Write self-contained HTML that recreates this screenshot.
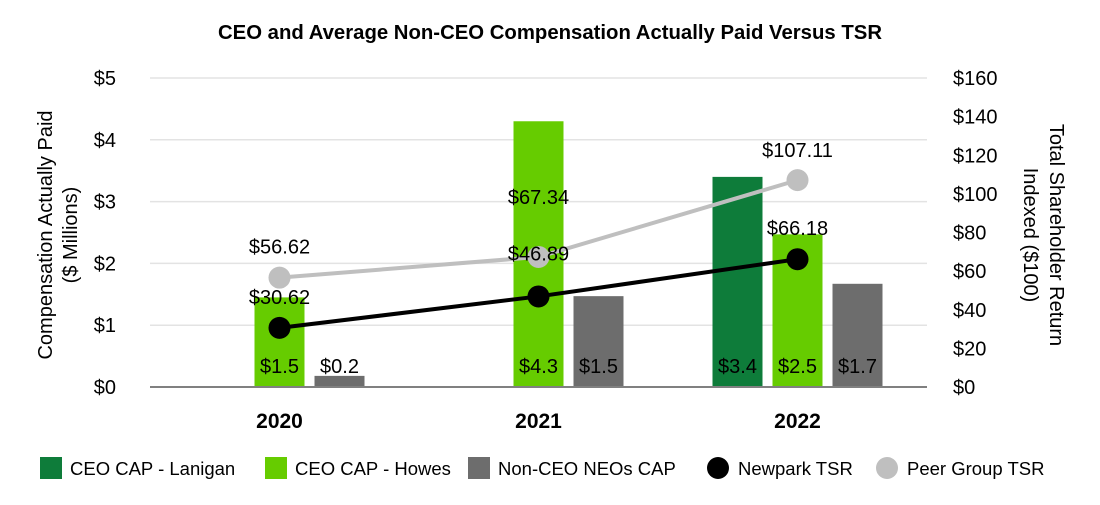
<!DOCTYPE html>
<html><head><meta charset="utf-8"><style>
body{margin:0;background:#fff;}
svg text{font-family:"Liberation Sans",sans-serif;}
</style></head><body>
<svg id="chart" width="1100" height="500" viewBox="0 0 1100 500" xmlns="http://www.w3.org/2000/svg">
<text x="550" y="39" text-anchor="middle" font-size="20" font-weight="bold" textLength="664" lengthAdjust="spacingAndGlyphs">CEO and Average Non-CEO Compensation Actually Paid Versus TSR</text>
<g id="grid"></g>
<g id="bars"></g>
<g id="lines"></g>
<g id="axes"></g>
<text transform="translate(52,235) rotate(-90)" text-anchor="middle" font-size="20">Compensation Actually Paid</text>
<text transform="translate(77,235) rotate(-90)" text-anchor="middle" font-size="20">($ Millions)</text>
<text transform="translate(1050,235) rotate(90)" text-anchor="middle" font-size="20">Total Shareholder Return</text>
<text transform="translate(1024,235) rotate(90)" text-anchor="middle" font-size="20">Indexed ($100)</text>
<g id="legend"></g>
</svg>
<script>
const categories = ["2020","2021","2022"];
const lanigan = [null, null, 3.4];
const howes = [1.45, 4.3, 2.47];
const nonCeo = [0.18, 1.47, 1.67];
const laniganLabels = ["", "", "$3.4"];
const howesLabels = ["$1.5", "$4.3", "$2.5"];
const nonCeoLabels = ["$0.2", "$1.5", "$1.7"];
const newparkTsr = [30.62, 46.89, 66.18];
const peerTsr = [56.62, 67.34, 107.11];
const leftTicks = [0,1,2,3,4,5];
const rightTicks = [0,20,40,60,80,100,120,140,160];

const NS="http://www.w3.org/2000/svg";
const L=150,R=927,T=78,B=387;
const yL=v=>B-(v/5)*(B-T);
const yR=v=>B-(v/160)*(B-T);
const band=(R-L)/categories.length;
const xC=i=>L+band*(i+0.5);
function mk(tag,attrs,parent,txt){const e=document.createElementNS(NS,tag);for(const k in attrs)e.setAttribute(k,attrs[k]);if(txt!==undefined)e.textContent=txt;parent.appendChild(e);return e;}
const grid=document.getElementById('grid'),bars=document.getElementById('bars'),lines=document.getElementById('lines'),axes=document.getElementById('axes'),legend=document.getElementById('legend');
leftTicks.forEach(v=>{
  if(v>0){const g=mk('line',{x1:L,x2:R,y1:yL(v),y2:yL(v),stroke:'#e3e3e3','stroke-width':1.5},grid);
  
  }
  const t=mk('text',{x:116,y:yL(v)+7,'text-anchor':'end','font-size':20},axes,'$'+v);
  
  
});
rightTicks.forEach(v=>{
  const t=mk('text',{x:953,y:yR(v)+7,'font-size':20},axes,'$'+v);
  
  
});
const base=mk('line',{x1:L,x2:R,y1:B,y2:B,stroke:'#808080','stroke-width':2},axes);


categories.forEach((c,i)=>{
  const t=mk('text',{x:xC(i),y:428,'text-anchor':'middle','font-size':21,'font-weight':'bold'},axes,c);
  
  
});
const series=[[lanigan,laniganLabels,'#0e7c3a',-60,'bar-lanigan'],[howes,howesLabels,'#66cc00',0,'bar-howes'],[nonCeo,nonCeoLabels,'#6d6d6d',60,'bar-non-ceo']];
series.forEach(([vals,labs,col,off,name])=>{
  vals.forEach((v,i)=>{
    if(v==null)return;
    const x=xC(i)+off-25;
    const r=mk('rect',{x:x,y:yL(v),width:50,height:B-yL(v),fill:col},bars);
    
    
    const t=mk('text',{x:x+25,y:373,'text-anchor':'middle','font-size':20},bars,labs[i]);
    
    
  });
});
function drawLine(vals,col,name,offsets){
  const pts=vals.map((v,i)=>xC(i)+','+yR(v)).join(' ');
  const pl=mk('polyline',{points:pts,fill:'none',stroke:col,'stroke-width':4},lines);
  
  
  vals.forEach((v,i)=>{
    const c=mk('circle',{cx:xC(i),cy:yR(v),r:11,fill:col},lines);
    
    
    const t=mk('text',{x:xC(i),y:yR(v)-offsets[i],'text-anchor':'middle','font-size':20},lines,'$'+v.toFixed(2));
    
    
  });
}
drawLine(peerTsr,'#bfbfbf','peer-tsr',[24,53,23]);
drawLine(newparkTsr,'#000000','newpark-tsr',[24,36,24]);
const leg=[['rect','#0e7c3a','CEO CAP - Lanigan',40],['rect','#66cc00','CEO CAP - Howes',265],['rect','#6d6d6d','Non-CEO NEOs CAP',468],['circle','#000','Newpark TSR',718],['circle','#bfbfbf','Peer Group TSR',887]];
leg.forEach(([s,col,lab,x])=>{
  let m;
  if(s==='rect')m=mk('rect',{x:x,y:457,width:22,height:22,fill:col},legend);
  else m=mk('circle',{cx:x,cy:468,r:11,fill:col},legend);
  
  
  const t=mk('text',{x:s==='rect'?x+30:x+20,y:475,'font-size':18.5},legend,lab);
  
  
});
</script>
</body></html>
